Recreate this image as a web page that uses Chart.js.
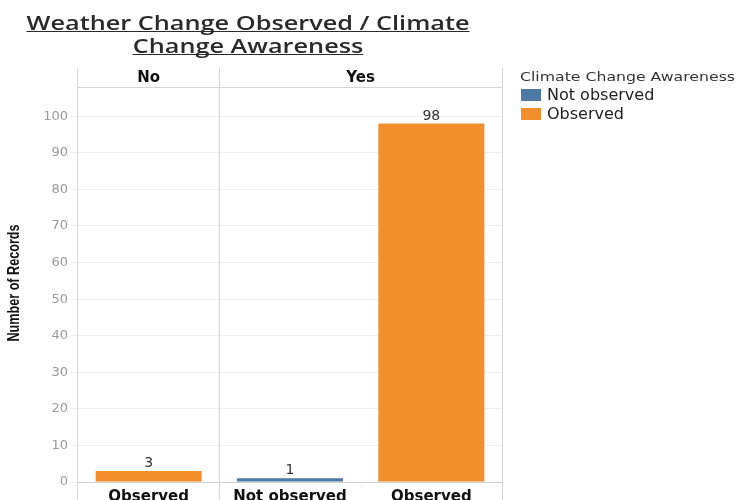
<!DOCTYPE html>
<html>
<head>
<meta charset="utf-8">
<script src="https://cdn.jsdelivr.net/npm/chart.js@4.4.1/dist/chart.umd.min.js"></script>
<style>
  html, body { margin: 0; padding: 0; background: #fff; }
</style>
</head>
<body>
<canvas id="chart" width="737" height="500"></canvas>
<script>
// data
const weatherChange = ['No', 'Yes', 'Yes'];
const awareness = ['Observed', 'Not observed', 'Observed'];
const records = [3, 1, 98];
const yTicks = [0, 10, 20, 30, 40, 50, 60, 70, 80, 90, 100];
const awarenessLevels = ['Not observed', 'Observed'];
const awarenessColors = ['#4E79A7', '#F28E2B'];

const titleLines = ['Weather Change Observed / Climate', 'Change Awareness'];
const legendTitle = 'Climate Change Awareness';
const yTitle = 'Number of Records';

const LINE = '#d4d4d4';
const barColors = awareness.map(a => awarenessColors[awarenessLevels.indexOf(a)]);

// frame, panel headers, bar labels, titles and legend
const decorations = {
  id: 'decorations',
  afterDraw(chart) {
    const ctx = chart.ctx;
    const area = chart.chartArea;
    const x = chart.scales.x;
    const n = weatherChange.length;
    const band = (area.right - area.left) / n;
    const headerTop = 68;

    ctx.save();
    ctx.strokeStyle = LINE;
    ctx.lineWidth = 1;

    // panel groups
    const groups = [];
    weatherChange.forEach((g, i) => {
      const last = groups[groups.length - 1];
      if (last && last.name === g) last.end = i;
      else groups.push({ name: g, start: i, end: i });
    });

    ctx.beginPath();
    ctx.moveTo(area.left - 0.5, headerTop);
    ctx.lineTo(area.left - 0.5, 500);
    ctx.moveTo(area.left, area.top + 0.5);
    ctx.lineTo(area.right, area.top + 0.5);
    groups.forEach(gr => {
      const r = Math.round(x.getPixelForValue(gr.end) + band / 2) + 0.5;
      ctx.moveTo(r, headerTop);
      ctx.lineTo(r, 500);
    });
    ctx.stroke();

    // faint separators between categories inside a panel (label row only)
    ctx.strokeStyle = '#ececec';
    ctx.beginPath();
    groups.forEach(gr => {
      for (let i = gr.start; i < gr.end; i++) {
        const r = Math.round(x.getPixelForValue(i) + band / 2) + 0.5;
        ctx.moveTo(r, area.bottom);
        ctx.lineTo(r, area.bottom + 6);
      }
    });
    ctx.stroke();

    // header text
    ctx.fillStyle = '#111';
    ctx.font = 'bold 15px "DejaVu Sans"';
    ctx.textAlign = 'center';
    ctx.textBaseline = 'middle';
    groups.forEach(gr => {
      const l = x.getPixelForValue(gr.start) - band / 2;
      const r = x.getPixelForValue(gr.end) + band / 2;
      ctx.fillText(gr.name, (l + r) / 2, 78);
    });

    // value labels
    const meta = chart.getDatasetMeta(0);
    ctx.fillStyle = '#333';
    ctx.font = '14px "DejaVu Sans"';
    ctx.textBaseline = 'alphabetic';
    meta.data.forEach((bar, i) => {
      ctx.fillText(String(records[i]), bar.x, bar.y - 4);
    });

    // y axis title, condensed
    ctx.fillStyle = '#111';
    ctx.font = 'bold 16px "Liberation Sans"';
    const ysx = 117 / ctx.measureText(yTitle).width;
    ctx.save();
    ctx.translate(15, 283);
    ctx.rotate(-Math.PI / 2);
    ctx.scale(ysx, 1);
    ctx.textAlign = 'center';
    ctx.textBaseline = 'middle';
    ctx.fillText(yTitle, 0, 0);
    ctx.restore();

    // title, stretched to the reference width and underlined
    ctx.fillStyle = '#2a2a2a';
    ctx.strokeStyle = '#2a2a2a';
    ctx.textBaseline = 'alphabetic';
    ctx.font = '600 19px "Open Sans"';
    const sx = 443 / ctx.measureText(titleLines[0]).width;
    const cx = 248;
    [[titleLines[0], 30], [titleLines[1], 53]].forEach(([t, y]) => {
      const w = ctx.measureText(t).width * sx;
      ctx.save();
      ctx.translate(cx, y);
      ctx.scale(sx, 1);
      ctx.textAlign = 'center';
      ctx.fillText(t, 0, 0);
      ctx.restore();
      ctx.beginPath();
      ctx.moveTo(cx - w / 2, y + 1.5);
      ctx.lineTo(cx + w / 2, y + 1.5);
      ctx.stroke();
    });

    // legend
    ctx.textAlign = 'left';
    ctx.textBaseline = 'middle';
    ctx.fillStyle = '#333';
    ctx.font = '13px "DejaVu Sans"';
    const lsx = 215 / ctx.measureText(legendTitle).width;
    ctx.save();
    ctx.translate(520, 78);
    ctx.scale(lsx, 1);
    ctx.fillText(legendTitle, 0, 0);
    ctx.restore();
    ctx.font = '16px "DejaVu Sans"';
    awarenessLevels.forEach((lvl, i) => {
      const y = 89 + i * 19;
      ctx.fillStyle = awarenessColors[i];
      ctx.fillRect(521, y, 20, 12);
      ctx.fillStyle = '#222';
      ctx.fillText(lvl, 547, y + 6.5);
    });
    ctx.restore();
  }
};

new Chart(document.getElementById('chart'), {
  type: 'bar',
  data: {
    labels: awareness,
    datasets: [{
      label: 'Number of Records',
      data: records,
      backgroundColor: barColors,
      borderWidth: 0,
      categoryPercentage: 1,
      barPercentage: 0.75
    }]
  },
  options: {
    responsive: false,
    animation: false,
    devicePixelRatio: 1,
    layout: { padding: { top: 87, right: 235, bottom: 0, left: 0 } },
    plugins: {
      legend: { display: false },
      tooltip: { enabled: false }
    },
    scales: {
      x: {
        grid: { display: false, drawTicks: false },
        border: { display: false },
        ticks: {
          color: '#111',
          font: { family: 'DejaVu Sans', size: 15, weight: 'bold' },
          padding: 6,
          maxRotation: 0,
          autoSkip: false
        },
        afterFit(scale) { scale.height = 18; }
      },
      y: {
        min: 0,
        max: 108,
        afterBuildTicks(scale) { scale.ticks = yTicks.map(v => ({ value: v })); },
        grid: {
          color: c => (c.tick && c.tick.value === 0 ? '#cfcfcf' : '#efefef'),
          tickColor: '#efefef',
          tickLength: 7
        },
        border: { display: false },
        ticks: {
          color: '#999',
          font: { family: 'DejaVu Sans', size: 13 },
          padding: 3
        },
        afterFit(scale) { scale.width = 78; }
      }
    }
  },
  plugins: [decorations]
});
</script>
</body>
</html>
